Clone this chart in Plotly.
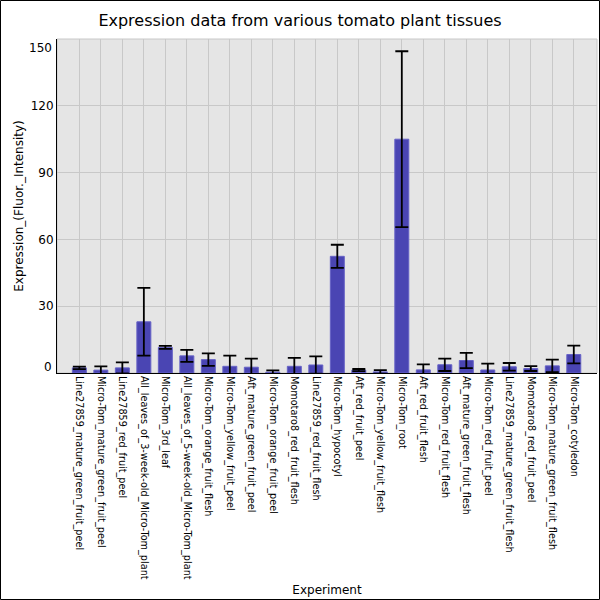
import plotly.graph_objects as go

categories = [
    "Line27859_mature_green_fruit_peel",
    "Micro-Tom_mature_green_fruit_peel",
    "Line27859_red_fruit_peel",
    "All_leaves_of_3-week-old_Micro-Tom_plant",
    "Micro-Tom_3rd_leaf",
    "All_leaves_of_5-week-old_Micro-Tom_plant",
    "Micro-Tom_orange_fruit_flesh",
    "Micro-Tom_yellow_fruit_peel",
    "Aft_mature_green_fruit_peel",
    "Micro-Tom_orange_fruit_peel",
    "Momotaro8_red_fruit_flesh",
    "Line27859_red_fruit_flesh",
    "Micro-Tom_hypocotyl",
    "Aft_red_fruit_peel",
    "Micro-Tom_yellow_fruit_flesh",
    "Micro-Tom_root",
    "Aft_red_fruit_flesh",
    "Micro-Tom_red_fruit_flesh",
    "Aft_mature_green_fruit_flesh",
    "Micro-Tom_red_fruit_peel",
    "Line27859_mature_green_fruit_flesh",
    "Momotaro8_red_fruit_peel",
    "Micro-Tom_mature_green_fruit_flesh",
    "Micro-Tom_cotyledon",
]

values = [2.3, 1.3, 2.3, 23.0, 11.5, 7.7, 6.0, 3.0, 2.6, 0.4, 3.0, 3.6,
          52.4, 1.3, 0.5, 105.0, 1.4, 3.7, 5.6, 1.35, 2.8, 2.0, 3.2, 8.3]
errors = [0.6, 1.7, 2.5, 15.2, 0.7, 2.7, 2.8, 4.8, 3.9, 0.8, 3.75, 3.9,
          5.2, 0.5, 0.8, 39.5, 2.5, 2.8, 3.4, 2.9, 1.7, 1.1, 2.8, 4.0]

y_ticks = [30, 60, 90, 120]
y_edge_ticks = [0, 150]
y_range = [0, 150]

FONT = "DejaVu Sans"
W, H = 600, 600
ML, MR, MT, MB = 57, 3, 39, 227
PW, PH = W - ML - MR, H - MT - MB

fig = go.Figure()
fig.add_trace(go.Bar(
    x=categories,
    y=values,
    width=0.65,
    marker=dict(color="#4a45b3", line=dict(color="#6662c6", width=1)),
    error_y=dict(type="data", array=errors, visible=True,
                 color="black", thickness=1.8, width=6.5),
    showlegend=False,
))

annotations = []
for v in y_edge_ticks:
    is_bottom = v == y_range[0]
    annotations.append(dict(
        x=0, xref="paper", xanchor="right", xshift=-3,
        y=v, yref="y", yanchor="bottom" if is_bottom else "top",
        yshift=-3 if is_bottom else 0,
        text=str(v), showarrow=False,
        font=dict(family=FONT, size=12, color="black"),
    ))

shapes = [
    dict(type="rect", xref="paper", yref="paper", x0=0, x1=1, y0=0, y1=1,
         line=dict(color="#c8c8c8", width=1), layer="below"),
    dict(type="rect", xref="paper", yref="paper",
         x0=-(ML - 0.5) / PW, x1=1 + (MR - 0.5) / PW,
         y0=-(MB - 0.5) / PH, y1=1 + (MT - 0.5) / PH,
         line=dict(color="black", width=1), layer="above"),
]

fig.update_layout(
    width=W, height=H,
    margin=dict(l=ML, r=MR, t=MT, b=MB, pad=0),
    paper_bgcolor="white",
    plot_bgcolor="#e5e5e5",
    font=dict(family=FONT, color="black"),
    title=dict(text="Expression data from various tomato plant tissues",
               x=0.5, xanchor="center", y=1 - 20 / H, yanchor="middle",
               font=dict(family=FONT, size=16, color="black")),
    xaxis=dict(
        type="category", range=[-1.04, 24.08],
        showgrid=True, gridcolor="#c8c8c8", gridwidth=1,
        showline=True, linecolor="black", linewidth=1,
        ticks="", tickangle=90,
        tickfont=dict(family=FONT, size=9.7, color="black"),
        title=dict(text="Experiment", font=dict(family=FONT, size=12, color="black"), standoff=6),
        automargin=False,
    ),
    yaxis=dict(
        range=y_range, tickvals=y_ticks,
        showgrid=True, gridcolor="#c8c8c8", gridwidth=1,
        showline=True, linecolor="black", linewidth=1,
        ticks="", zeroline=False,
        tickfont=dict(family=FONT, size=12, color="black"),
        title=dict(text="Expression_(Fluor._Intensity)",
                   font=dict(family=FONT, size=12, color="black"), standoff=4),
        automargin=False,
    ),
    bargap=0.35,
    annotations=annotations,
    shapes=shapes,
)

fig.write_html(
    "out.html",
    config={"displayModeBar": False},
    post_script="document.body.style.margin='0';document.body.style.overflow='hidden';",
)
